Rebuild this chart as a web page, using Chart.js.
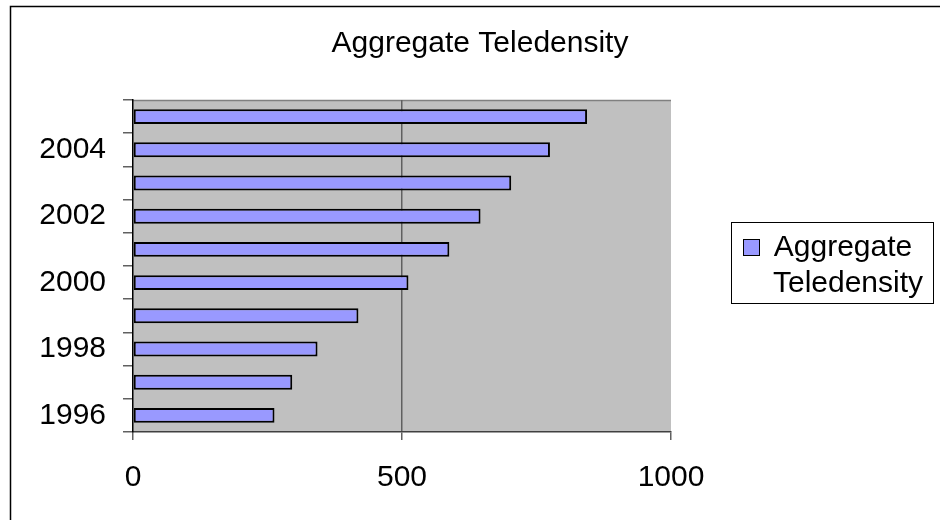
<!DOCTYPE html>
<html>
<head>
<meta charset="utf-8">
<script src="https://cdn.jsdelivr.net/npm/chart.js@4.4.0/dist/chart.umd.min.js"></script>
<style>
  body { margin: 0; background: #fff; overflow: hidden; }
  canvas { display: block; }
</style>
</head>
<body>
<canvas id="teledensity" width="940" height="520"></canvas>
<script>
// data
var years = ['1996', '1997', '1998', '1999', '2000', '2001', '2002', '2003', '2004', '2005'];
var teledensity = [263, 296, 343, 419, 512, 588, 646, 703, 775, 844];
var xTicks = [0, 500, 1000];
var chartTitle = 'Aggregate Teledensity';
var seriesName = 'Aggregate Teledensity';

var FONT = "'Liberation Sans', Arial, sans-serif";

/* grey plot area, outer frame, title and legend box */
var excelLook = {
  id: 'excelLook',
  beforeDraw: function(chart) {
    var ctx = chart.ctx;
    var a = chart.chartArea;
    ctx.save();
    ctx.fillStyle = '#fff';
    ctx.fillRect(0, 0, chart.width, chart.height);
    ctx.fillStyle = '#c0c0c0';
    ctx.fillRect(a.left, a.top, a.right - a.left, a.bottom - a.top);
    ctx.strokeStyle = '#808080';
    ctx.lineWidth = 1.5;
    ctx.beginPath();
    ctx.moveTo(a.left, a.top + 0.5);
    ctx.lineTo(a.right, a.top + 0.5);
    ctx.stroke();
    ctx.restore();
  },
  afterDraw: function(chart) {
    var ctx = chart.ctx;
    ctx.save();
    // outer frame
    ctx.strokeStyle = '#000';
    ctx.lineWidth = 1.5;
    ctx.beginPath();
    ctx.moveTo(10.5, chart.height);
    ctx.lineTo(10.5, 6.5);
    ctx.lineTo(chart.width, 6.5);
    ctx.stroke();

    // title
    ctx.fillStyle = '#000';
    ctx.font = '30px ' + FONT;
    ctx.textAlign = 'center';
    ctx.textBaseline = 'alphabetic';
    ctx.fillText(chartTitle, 480, 52);

    // legend
    ctx.lineWidth = 1;
    ctx.strokeRect(731.5, 222.5, 202, 81);
    ctx.fillStyle = chart.data.datasets[0].backgroundColor;
    ctx.fillRect(743, 239, 16, 16);
    ctx.strokeRect(743.5, 239.5, 16, 16);
    ctx.fillStyle = '#000';
    var words = chart.data.datasets[0].label.split(' ');
    ctx.fillText(words[0], 843, 256);
    ctx.fillText(words[1], 848, 292);
    ctx.restore();
  }
};

new Chart(document.getElementById('teledensity'), {
  type: 'bar',
  data: {
    labels: years,
    datasets: [{
      label: seriesName,
      data: teledensity,
      backgroundColor: '#9999ff',
      borderColor: '#000',
      borderWidth: 2,
      borderSkipped: false,
      categoryPercentage: 1,
      barPercentage: 0.45
    }]
  },
  options: {
    indexAxis: 'y',
    responsive: false,
    animation: false,
    layout: {
      padding: { top: 100, right: 269, bottom: 0, left: 0 }
    },
    plugins: {
      legend: { display: false },
      title: { display: false },
      tooltip: { enabled: false }
    },
    scales: {
      x: {
        min: 0,
        max: 1000,
        afterFit: function(scale) { scale.height = 88; },
        afterBuildTicks: function(scale) {
          scale.ticks = xTicks.map(function(v) { return { value: v }; });
        },
        border: { display: true, color: '#404040', width: 1.5 },
        grid: {
          color: function(c) { return c.tick && c.tick.value === 500 ? '#606060' : 'rgba(0,0,0,0)'; },
          tickColor: '#606060',
          lineWidth: 1.5,
          tickLength: 8
        },
        ticks: {
          color: '#000',
          padding: 20,
          maxRotation: 0,
          font: { family: FONT, size: 30 },
          callback: function(v) { return String(v); }
        }
      },
      y: {
        reverse: true,
        afterFit: function(scale) { scale.width = 133; },
        border: { display: true, color: '#000', width: 1.5 },
        grid: {
          drawOnChartArea: false,
          tickColor: '#606060',
          lineWidth: 1.5,
          tickLength: 10
        },
        ticks: {
          color: '#000',
          padding: 17,
          autoSkip: false,
          font: { family: FONT, size: 30 },
          callback: function(val, i) {
            return i % 2 === 0 ? this.getLabelForValue(val) : '';
          }
        }
      }
    }
  },
  plugins: [excelLook]
});
</script>
</body>
</html>
